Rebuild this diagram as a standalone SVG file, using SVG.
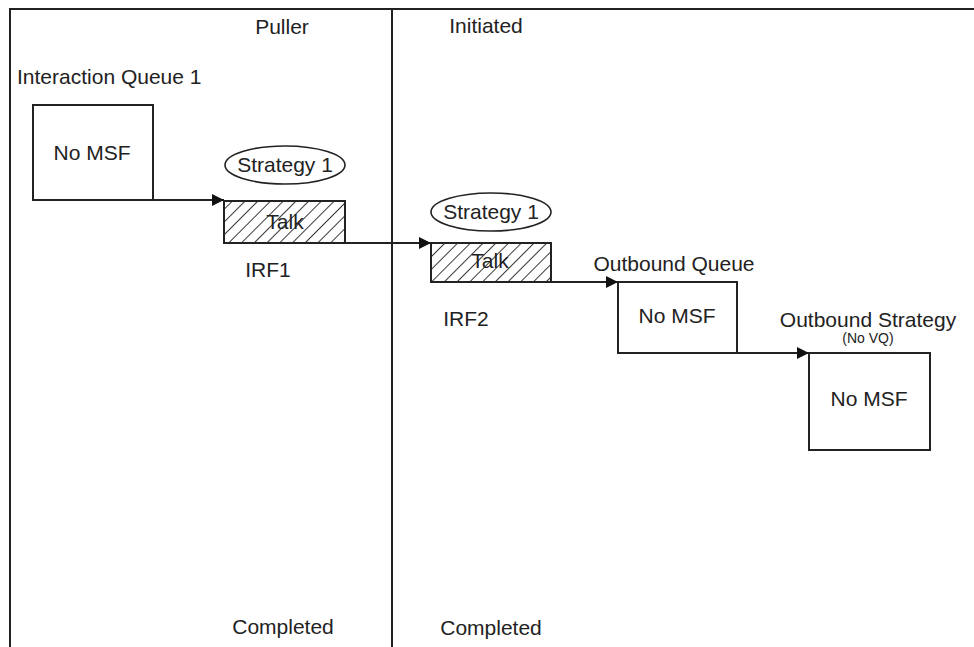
<svg xmlns="http://www.w3.org/2000/svg" width="974" height="647" viewBox="0 0 974 647">
<defs>
<style>
text{font-family:"Liberation Sans",Arial,sans-serif;font-size:21px;fill:#222;}
.c{text-anchor:middle;}
.s{font-size:14px;}
.box{fill:#fff;stroke:#222;stroke-width:2;}
.hat{fill:url(#hatch);stroke:#222;stroke-width:2;}
.ell{fill:#fff;stroke:#222;stroke-width:1.6;}
.ln{fill:none;stroke:#222;stroke-width:2;}
</style>
<pattern id="hatch" patternUnits="userSpaceOnUse" width="9" height="9" patternTransform="rotate(45)">
<rect width="9" height="9" fill="#fff"/>
<line x1="0" y1="0" x2="0" y2="9" stroke="#222" stroke-width="1.8"/>
</pattern>
<marker id="arrB" viewBox="0 0 12 12" refX="12" refY="6" markerWidth="12" markerHeight="12" markerUnits="userSpaceOnUse" orient="auto">
<path d="M0,0 L12,6 L0,12 z" fill="#111"/>
</marker>
</defs>
<rect width="974" height="647" fill="#fff"/>
<g id="frame">
<path class="ln" d="M10,647 L10,9 L974,9"/>
<line class="ln" x1="392" y1="9" x2="392" y2="647"/>
<text class="c" x="282" y="34">Puller</text>
<text class="c" x="486" y="33">Initiated</text>
<text class="c" x="283" y="634">Completed</text>
<text class="c" x="491" y="635">Completed</text>
</g>
<g id="queue1">
<text x="17" y="84">Interaction Queue 1</text>
<rect class="box" x="33" y="105" width="120" height="95"/>
<text class="c" x="92" y="160">No MSF</text>
</g>
<g id="irf1">
<ellipse class="ell" cx="285" cy="165" rx="60" ry="19"/>
<text class="c" x="285" y="172">Strategy 1</text>
<rect class="hat" x="224" y="201" width="121" height="42"/>
<text class="c" x="285" y="229">Talk</text>
<text class="c" x="268" y="277">IRF1</text>
</g>
<g id="irf2">
<ellipse class="ell" cx="491" cy="212" rx="60" ry="19"/>
<text class="c" x="491" y="219">Strategy 1</text>
<rect class="hat" x="431" y="243" width="120" height="39"/>
<text class="c" x="490" y="268">Talk</text>
<text class="c" x="466" y="326">IRF2</text>
</g>
<g id="outboundQueue">
<text class="c" x="674" y="271">Outbound Queue</text>
<rect class="box" x="618" y="282" width="119" height="71"/>
<text class="c" x="677" y="323">No MSF</text>
</g>
<g id="outboundStrategy">
<text class="c" x="868" y="327">Outbound Strategy</text>
<text class="c s" x="868" y="343">(No VQ)</text>
<rect class="box" x="809" y="353" width="121" height="97"/>
<text class="c" x="869" y="406">No MSF</text>
</g>
<g id="connectors">
<line class="ln" x1="153" y1="200" x2="224" y2="200" marker-end="url(#arrB)"/>
<line class="ln" x1="345" y1="243" x2="431" y2="243" marker-end="url(#arrB)"/>
<line class="ln" x1="551" y1="282" x2="618" y2="282" marker-end="url(#arrB)"/>
<line class="ln" x1="737" y1="353" x2="809" y2="353" marker-end="url(#arrB)"/>
</g>
</svg>
